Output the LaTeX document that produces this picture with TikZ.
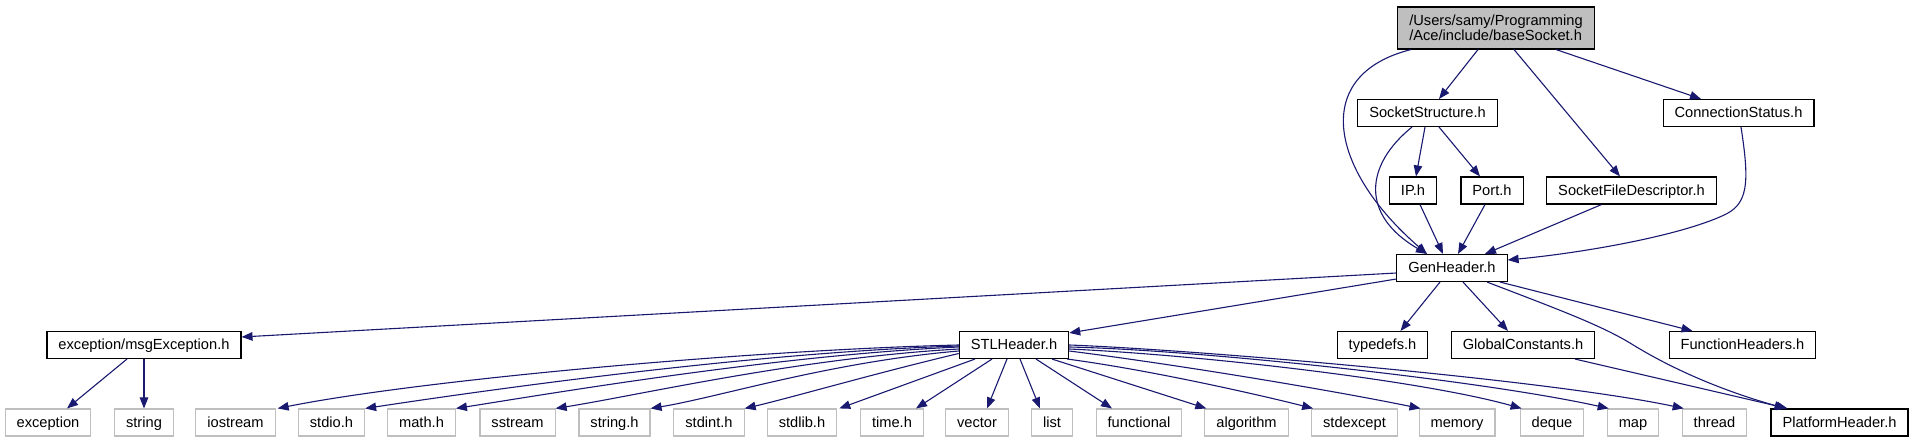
\documentclass[tikz,border=0pt]{standalone}
\usepackage{fontspec}
\setmainfont{Liberation Sans}
\usetikzlibrary{arrows.meta}
\definecolor{edgeblue}{HTML}{191970}
\definecolor{leafgray}{HTML}{BFBFBF}
\definecolor{rootgray}{HTML}{BFBFBF}
\begin{document}
\begin{tikzpicture}[x=1pt,y=-1pt,
  box/.style={draw=black, line width=1.1pt, fill=white, inner xsep=11.5pt, inner ysep=0pt,
    minimum height=27pt, text height=10.6pt, text depth=1.5pt,
    font=\fontsize{14.65}{17.6}\selectfont},
  leaf/.style={box, draw=leafgray},
  rootbox/.style={draw=black, line width=1.1pt, fill=rootgray, align=left, inner xsep=11.5pt,
    inner ysep=4pt, minimum height=42pt, font=\fontsize{14.65}{15.5}\selectfont},
  dep/.style={draw=edgeblue, line width=1.1pt, -{Triangle[length=11pt,width=8.5pt]}}
]
\useasboundingbox (0,0) rectangle (1915,443);
% nodes
\node[rootbox] (base) at (1496,28) {/Users/samy/Programming\\/Ace/include/baseSocket.h};
\node[box] (SS) at (1427.5,113) {SocketStructure.h};
\node[box] (CS) at (1738.5,113) {ConnectionStatus.h};
\node[box] (IP) at (1413,190.5) {IP.h};
\node[box] (Port) at (1492,190.5) {Port.h};
\node[box] (SFD) at (1631.5,190.5) {SocketFileDescriptor.h};
\node[box] (Gen) at (1452,268) {GenHeader.h};
\node[box] (msgEx) at (144,345) {exception/msgException.h};
\node[box] (STL) at (1014,345) {STLHeader.h};
\node[box] (typedefs) at (1382.5,345) {typedefs.h};
\node[box] (GC) at (1523,345) {GlobalConstants.h};
\node[box] (FH) at (1742.5,345) {FunctionHeaders.h};
\node[leaf] (exc) at (48,422.5) {exception};
\node[leaf] (str) at (144,422.5) {string};
\node[leaf] (iostream) at (235.5,422.5) {iostream};
\node[leaf] (stdio) at (331.5,422.5) {stdio.h};
\node[leaf] (mathh) at (421.5,422.5) {math.h};
\node[leaf] (sstream) at (517.5,422.5) {sstream};
\node[leaf] (stringh) at (614.5,422.5) {string.h};
\node[leaf] (stdint) at (709,422.5) {stdint.h};
\node[leaf] (stdlib) at (802,422.5) {stdlib.h};
\node[leaf] (timeh) at (892,422.5) {time.h};
\node[leaf] (vector) at (977,422.5) {vector};
\node[leaf] (list) at (1052,422.5) {list};
\node[leaf] (functional) at (1139,422.5) {functional};
\node[leaf] (algorithm) at (1246.5,422.5) {algorithm};
\node[leaf] (stdexcept) at (1354.5,422.5) {stdexcept};
\node[leaf] (memory) at (1457,422.5) {memory};
\node[leaf] (deque) at (1552,422.5) {deque};
\node[leaf] (map) at (1633,422.5) {map};
\node[leaf] (thread) at (1714.5,422.5) {thread};
\node[box] (PH) at (1839.5,422.5) {PlatformHeader.h};
% edges from baseSocket
\draw[dep] ([xshift=-18pt]base.south) -- ([xshift=11.5pt]SS.north);
\draw[dep] ([xshift=18pt]base.south) -- ([xshift=-11.5pt]SFD.north);
\draw[dep] ([xshift=60pt]base.south) -- ([xshift=-37.5pt]CS.north);
\draw[dep] ([xshift=-85pt]base.south) .. controls (1310,75) and (1330,170) .. ([xshift=-25pt]Gen.north);
% SocketStructure
\draw[dep] ([xshift=-2.5pt]SS.south) -- ([xshift=3pt]IP.north);
\draw[dep] ([xshift=11.5pt]SS.south) -- ([xshift=-12pt]Port.north);
\draw[dep] ([xshift=-15.5pt]SS.south) .. controls (1365,165) and (1360,215) .. ([xshift=-25pt]Gen.north);
% into GenHeader
\draw[dep] ([xshift=7pt]IP.south) -- ([xshift=-9pt]Gen.north);
\draw[dep] ([xshift=-7pt]Port.south) -- ([xshift=6pt]Gen.north);
\draw[dep] ([xshift=-30pt]SFD.south) -- ([xshift=33pt]Gen.north);
\draw[dep] ([xshift=2.5pt]CS.south) .. controls (1750,185) and (1748,205) .. (1722,216)
  .. controls (1680,235) and (1590,252) .. ([yshift=8pt]Gen.east);
% from GenHeader
\draw[dep] ([yshift=-5pt]Gen.west) -- ([yshift=8pt]msgEx.east);
\draw[dep] ([yshift=-11pt]Gen.west) -- ([yshift=-2pt]STL.north east);
\draw[dep] ([xshift=-12pt]Gen.south) -- ([xshift=18pt]typedefs.north);
\draw[dep] ([xshift=11pt]Gen.south) -- ([xshift=-15pt]GC.north);
\draw[dep] ([xshift=48pt]Gen.south) -- ([xshift=-50pt]FH.north);
\draw[dep] ([xshift=35pt]Gen.south) .. controls (1560,310) and (1600,325) .. (1630,343)
  .. controls (1670,368) and (1720,390) .. ([xshift=-54pt]PH.north);
\draw[dep] ([xshift=52pt]GC.south) -- ([xshift=-52pt]PH.north);
% msgException
\draw[dep] ([xshift=-17pt]msgEx.south) -- ([xshift=19pt]exc.north);
\draw[dep] (msgEx.south) -- (str.north);
% STLHeader fan
\draw[dep] (STL.west) .. controls (750,350) and (420,380) .. ([xshift=2pt]iostream.north east);
\draw[dep] ([yshift=-1pt]STL.west) .. controls (760,352) and (500,388) .. (stdio.north east);
\draw[dep] ([yshift=-2pt]STL.west) .. controls (780,355) and (560,392) .. (mathh.north east);
\draw[dep] ([yshift=-4pt]STL.west) .. controls (800,358) and (640,395) .. (sstream.north east);
\draw[dep] ([yshift=-6pt]STL.west) .. controls (830,362) and (720,397) .. (stringh.north east);
\draw[dep] ([yshift=-8.5pt]STL.west) .. controls (880,372) and (790,398) .. (stdint.north east);
\draw[dep] ([xshift=-39pt]STL.south) -- ([xshift=2pt]stdlib.north east);
\draw[dep] ([xshift=-22pt]STL.south) -- ([xshift=-8pt]timeh.north east);
\draw[dep] ([xshift=-7pt]STL.south) -- ([xshift=10pt]vector.north);
\draw[dep] ([xshift=6pt]STL.south) -- ([xshift=-12pt]list.north);
\draw[dep] ([xshift=22pt]STL.south) -- ([xshift=-27pt]functional.north);
\draw[dep] ([xshift=38pt]STL.south) -- ([xshift=2pt]algorithm.north west);
\draw[dep] ([xshift=-2pt]STL.south east) .. controls (1150,370) and (1260,395) .. ([xshift=2pt]stdexcept.north west);
\draw[dep] ([yshift=-6pt]STL.east) .. controls (1180,365) and (1330,390) .. ([xshift=2pt]memory.north west);
\draw[dep] ([yshift=-4pt]STL.east) .. controls (1200,355) and (1420,380) .. ([xshift=2pt]deque.north west);
\draw[dep] ([yshift=-2pt]STL.east) .. controls (1200,350) and (1480,380) .. ([xshift=2pt]map.north west);
\draw[dep] (STL.east) .. controls (1200,350) and (1550,380) .. ([xshift=2pt]thread.north west);
\end{tikzpicture}
\end{document}
